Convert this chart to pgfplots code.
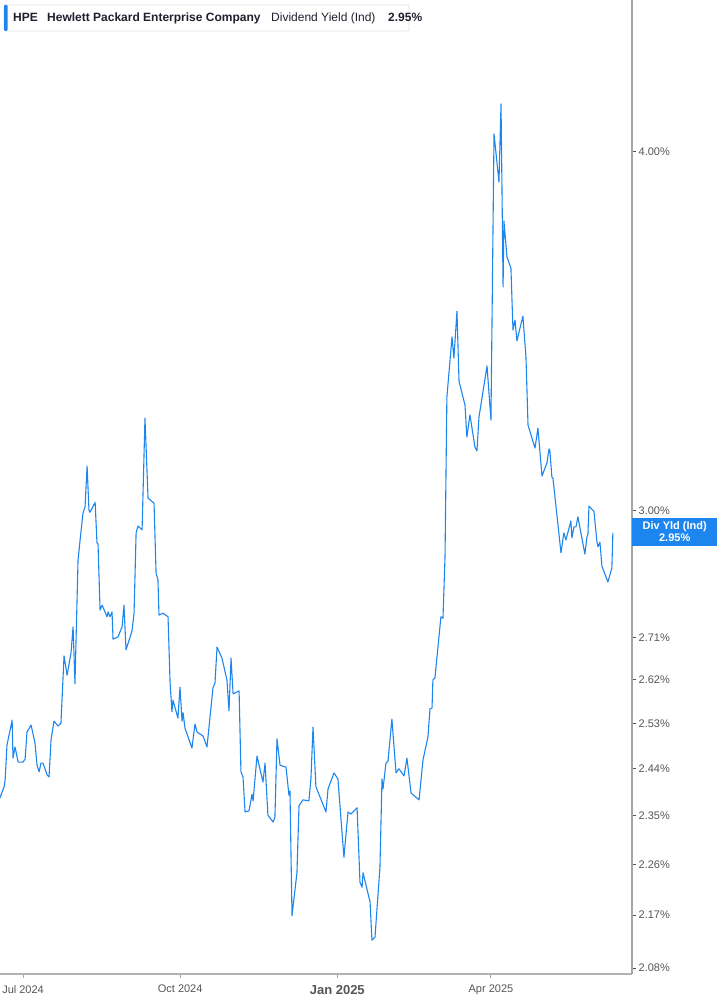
\documentclass[border=0pt]{standalone}
\usepackage{fontspec}
\setmainfont{Liberation Sans}
\usepackage{pgfplots}
\usepackage{pgfplotstable}
\pgfplotsset{compat=1.18}

\definecolor{lineblue}{RGB}{28,134,238}
\definecolor{tickgray}{RGB}{85,85,85}
\definecolor{axisgray}{RGB}{165,165,165}
\definecolor{headtext}{RGB}{30,32,45}

% days since 1 Jul 2024, dividend yield in %
\pgfplotstableread{
d v
-13.5 2.384
-11.1 2.405
-10.5 2.418
-9.4 2.487
-6.4 2.537
-5.9 2.461
-4.7 2.483
-2.9 2.453
0.0 2.453
1.2 2.459
2.3 2.513
4.7 2.527
7.0 2.491
8.2 2.447
9.4 2.434
10.5 2.451
11.7 2.451
14.1 2.428
15.2 2.424
16.4 2.497
18.1 2.535
20.5 2.525
22.2 2.531
24.0 2.671
25.8 2.630
28.1 2.678
29.3 2.734
30.4 2.612
32.2 2.884
33.4 2.931
35.1 2.995
36.3 3.010
37.5 3.110
38.6 3.002
39.2 2.997
42.2 3.021
43.3 2.924
43.9 2.922
45.1 2.771
46.3 2.782
49.2 2.756
49.8 2.767
50.9 2.756
52.1 2.767
52.7 2.707
55.6 2.712
58.0 2.734
59.1 2.782
60.3 2.684
63.8 2.725
65.0 2.764
66.2 2.948
67.3 2.964
69.7 2.955
71.4 3.232
73.2 3.031
76.7 3.019
77.9 2.854
79.0 2.839
79.6 2.760
82.0 2.764
84.9 2.756
86.1 2.614
87.2 2.554
87.8 2.578
90.7 2.541
91.9 2.605
93.1 2.535
93.7 2.552
94.8 2.521
98.9 2.481
100.7 2.529
101.9 2.513
105.4 2.505
107.7 2.483
111.2 2.603
112.4 2.614
113.6 2.690
116.5 2.666
119.4 2.620
120.6 2.556
121.8 2.666
123.0 2.591
126.5 2.597
127.6 2.434
128.8 2.424
130.0 2.357
132.3 2.359
134.1 2.391
134.7 2.378
137.0 2.465
140.5 2.414
141.7 2.451
143.4 2.351
146.4 2.338
147.5 2.347
148.7 2.499
150.5 2.447
154.0 2.443
155.7 2.389
156.3 2.397
157.5 2.169
160.4 2.245
161.6 2.369
163.9 2.380
167.4 2.378
168.6 2.422
169.8 2.523
171.5 2.405
177.4 2.357
178.6 2.401
182.1 2.432
184.4 2.420
187.9 2.273
190.3 2.357
192.0 2.353
195.6 2.365
197.3 2.228
198.5 2.219
199.1 2.245
203.2 2.193
204.3 2.127
206.1 2.132
209.0 2.255
210.2 2.420
210.8 2.401
212.5 2.451
213.7 2.455
216.0 2.539
218.4 2.432
220.1 2.440
223.1 2.426
224.8 2.461
227.2 2.393
231.9 2.380
234.2 2.457
237.1 2.503
238.3 2.560
239.5 2.562
240.0 2.620
241.2 2.624
244.7 2.756
245.9 2.753
247.1 2.891
248.2 3.287
251.2 3.449
252.3 3.391
254.1 3.521
255.3 3.329
258.8 3.266
259.9 3.183
261.7 3.240
264.6 3.158
265.8 3.148
267.0 3.235
269.3 3.300
271.7 3.370
274.0 3.227
275.8 4.058
278.7 3.905
279.9 4.157
281.1 3.590
281.6 3.785
283.4 3.677
285.7 3.645
286.9 3.468
288.1 3.496
289.2 3.438
292.7 3.507
294.5 3.394
295.7 3.214
299.8 3.155
300.9 3.188
301.5 3.206
303.9 3.085
306.8 3.118
308.0 3.153
308.5 3.148
309.7 3.082
310.3 3.080
315.0 2.901
316.7 2.948
317.9 2.931
320.8 2.976
321.4 2.936
322.6 2.962
323.8 2.962
324.9 2.986
329.0 2.898
330.2 2.938
330.8 2.945
331.4 3.012
334.3 2.999
336.1 2.926
336.7 2.915
337.8 2.926
339.0 2.870
342.5 2.834
344.8 2.866
345.4 2.948
}\yielddata

\begin{document}
\begin{tikzpicture}[x=1pt,y=1pt]
\path[use as bounding box] (0,-31) rectangle (717,974);
\begin{axis}[
    at={(0,0)}, anchor=south west,
    scale only axis, width=632pt, height=974pt,
    ymode=log,
    xmin=-13.5, xmax=356.6, ymin=2.07, ymax=4.518,
    axis x line*=bottom, axis y line*=right,
    axis line style={draw=axisgray, line width=1.2pt},
    x axis line style={-, line width=1.6pt, draw=axisgray!85}, y axis line style={-},
    clip=false,
    xtick={0,92,184,274},
    xticklabels={Jul 2024, Oct 2024, {\fontsize{13}{15}\selectfont\bfseries Jan 2025}, Apr 2025},
    ytick={2.08,2.17,2.26,2.35,2.44,2.53,2.62,2.71,3.00,4.00},
    yticklabels={2.08\%,2.17\%,2.26\%,2.35\%,2.44\%,2.53\%,2.62\%,2.71\%,3.00\%,4.00\%},
    minor ytick={}, minor xtick={},
    tick align=outside,
    major tick length=4pt,
    xtick style={draw=axisgray, line width=1pt},
    ytick style={draw=tickgray, line width=1pt},
    xticklabel style={font=\fontsize{11}{13}\selectfont, text=tickgray, inner sep=2pt, yshift=-5pt},
    yticklabel style={font=\fontsize{11}{13}\selectfont, text=tickgray, inner sep=2.5pt},
]
\addplot[lineblue, line width=1.1pt, line join=round] table[x=d, y=v] {\yielddata};
\node[fill=lineblue, text=white, anchor=west, inner sep=0pt,
      minimum width=85pt, minimum height=28pt, align=center,
      font=\fontsize{11}{12}\selectfont\bfseries]
  at (axis cs:356.6,2.95) {Div Yld (Ind)\\2.95\%};
\end{axis}
% header
\draw[draw=black!12, fill=white, rounded corners=2pt, line width=0.8pt] (4,943) rectangle (409,969);
\fill[lineblue, rounded corners=1pt] (4,943) rectangle (7.5,969);
\node[anchor=base west, inner sep=0pt, font=\fontsize{12}{14}\selectfont\bfseries, text=headtext] at (13,952) {HPE};
\node[anchor=base west, inner sep=0pt, font=\fontsize{12}{14}\selectfont\bfseries, text=headtext] at (47,952) {Hewlett Packard Enterprise Company};
\node[anchor=base west, inner sep=0pt, font=\fontsize{12}{14}\selectfont, text=headtext] at (271,952) {Dividend Yield (Ind)};
\node[anchor=base west, inner sep=0pt, font=\fontsize{12}{14}\selectfont\bfseries, text=headtext] at (388,952) {2.95\%};
\end{tikzpicture}
\end{document}
